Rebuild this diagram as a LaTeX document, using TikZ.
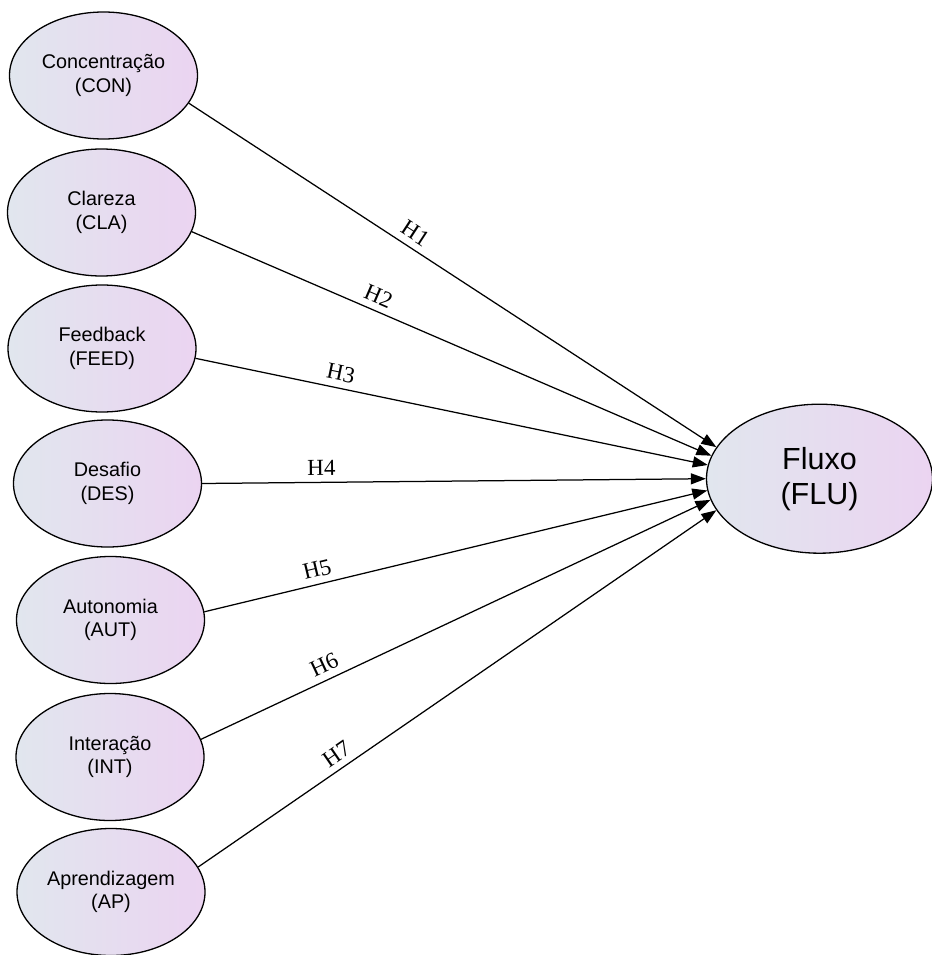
\documentclass[tikz,border=0pt]{standalone}
\usepackage{fontspec}
\setmainfont{Liberation Sans}
\newfontfamily\hypfont{Liberation Serif}
\usetikzlibrary{arrows.meta,shapes.geometric}
\definecolor{shadeL}{HTML}{E1E6EE}
\definecolor{shadeR}{HTML}{EBD4F1}
\begin{document}
\begin{tikzpicture}[x=1pt,y=-1pt,
  construct/.style={ellipse, draw=black, line width=1.3pt,
    left color=shadeL, right color=shadeR,
    minimum width=188pt, minimum height=127pt, inner sep=0pt,
    align=center, font=\fontsize{19.8}{23.5}\selectfont},
  outcome/.style={construct, minimum width=226pt, minimum height=149pt,
    font=\fontsize{30.5}{35}\selectfont},
  link/.style={draw=black, line width=1.25pt, -{Triangle[length=15pt,width=11pt]}},
  hyp/.style={sloped, above, inner xsep=0pt, inner ysep=6.5pt,
    font=\hypfont\fontsize{23}{25}\selectfont}
]
\useasboundingbox (0,0) rectangle (931,955);

% exogenous constructs
\node[construct] (con)  at (103.5,75.5) {Concentração\\(CON)};
\node[construct] (cla)  at (101.5,212.5) {Clareza\\(CLA)};
\node[construct] (feed) at (102,348.5) {Feedback\\(FEED)};
\node[construct] (des)  at (107.5,483.5) {Desafio\\(DES)};
\node[construct] (aut)  at (110.5,620) {Autonomia\\(AUT)};
\node[construct] (int)  at (110,757) {Interação\\(INT)};
\node[construct] (ap)   at (111,892) {Aprendizagem\\(AP)};

% endogenous construct
\node[outcome] (flu) at (819.5,478.7) {Fluxo\\(FLU)};

% hypothesised paths
\draw[link] (con.-18.5) -- node[hyp, pos=0.414] {H1} (flu.163.9);
\draw[link] (cla.-12.8) -- node[hyp, pos=0.348] {H2} (flu.168.6);
\draw[link] (feed.-6)   -- node[hyp, pos=0.278] {H3} (flu.173.9);
\draw[link] (des.0)     -- node[hyp, pos=0.237] {H4} (flu.180.3);
\draw[link] (aut.5.5)   -- node[hyp, pos=0.231] {H5} (flu.186.6);
\draw[link] (int.11.5)  -- node[hyp, pos=0.254] {H6} (flu.191.4);
\draw[link] (ap.16.4)   -- node[hyp, pos=0.283] {H7} (flu.197.2);
\end{tikzpicture}
\end{document}
